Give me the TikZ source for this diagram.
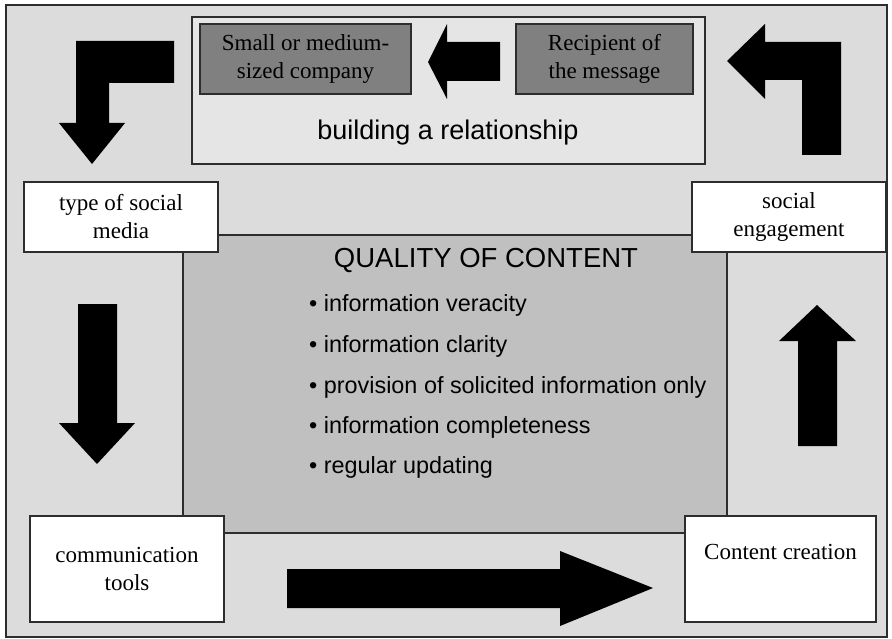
\documentclass[tikz,border=0pt]{standalone}
\usepackage{fontspec}
\setmainfont{Liberation Serif}
\setsansfont{Liberation Sans}
\definecolor{bgfill}{RGB}{220,220,220}
\definecolor{framefill}{RGB}{229,229,229}
\definecolor{darkbox}{RGB}{128,128,128}
\definecolor{corefill}{RGB}{192,192,192}
\definecolor{edgeline}{RGB}{45,45,45}
\begin{document}
\begin{tikzpicture}[x=1pt,y=-1pt,
  box/.style={rectangle,draw=edgeline,line width=1.1pt,fill=white,align=center,
    inner sep=0pt,font=\fontsize{23}{28}\selectfont},
  darkbox/.style={box,fill=darkbox},
  bullet/.style={anchor=base west,inner sep=0pt,font=\sffamily\fontsize{23.4}{28}\selectfont},
  blockarrow/.style={fill=black}]
\useasboundingbox (0,0) rectangle (892,639);
% background and frames
\draw[edgeline,line width=1.1pt,fill=bgfill] (6,5) rectangle (887,637);
\node [rectangle,draw=edgeline,line width=1.1pt,fill=corefill,minimum width=544,minimum height=298] (core) at (455,384) {};
\node [rectangle,draw=edgeline,line width=1.1pt,fill=framefill,minimum width=513,minimum height=147] (frame) at (448.5,90.5) {};
% relationship
\node [darkbox,minimum width=211,minimum height=70] (firm) at (305.5,59) {Small or medium-\\sized company};
\node [darkbox,minimum width=177,minimum height=70] (recipient) at (604.5,59) {Recipient of\\the message};
\node [font=\sffamily\fontsize{27}{30}\selectfont] (relation) at (448,133) {building a relationship};
% quality of content
\node [font=\sffamily\fontsize{27.5}{30}\selectfont] (quality) at (486,260) {QUALITY OF CONTENT};
\node [bullet] (veracity) at (309,312) {• information veracity};
\node [bullet] (clarity) at (309,352) {• information clarity};
\node [bullet] (solicited) at (309,393) {• provision of solicited information only};
\node [bullet] (complete) at (309,433) {• information completeness};
\node [bullet] (updating) at (309,473) {• regular updating};
% the four steps
\node [box,minimum width=194,minimum height=70] (media) at (121,217) {type of social\\media};
\node [box,minimum width=194,minimum height=70] (engage) at (789,217) {social\\engagement};
\node [box,minimum width=194,minimum height=106] (tools) at (127,569) {communication\\tools};
\node [box,minimum width=191,minimum height=106,text depth=34pt] (creation) at (780.5,569) {Content creation};
% block arrows
\fill[blockarrow] (500,42) -- (447,42) -- (447,24) -- (428,62) -- (447,99) -- (447,81) -- (500,81) -- cycle;
\fill[blockarrow] (174,41) -- (76,41) -- (76,123) -- (59,123) -- (92,164) -- (125,123) -- (109,123) -- (109,83) -- (174,83) -- cycle;
\fill[blockarrow] (727,61) -- (765,24) -- (765,42) -- (841,42) -- (841,155) -- (802,155) -- (802,80) -- (765,80) -- (765,99) -- cycle;
\fill[blockarrow] (78,304) -- (117,304) -- (117,423) -- (135,423) -- (97,464) -- (59,423) -- (78,423) -- cycle;
\fill[blockarrow] (287,569) -- (560,569) -- (560,551) -- (653,588) -- (560,626) -- (560,608) -- (287,608) -- cycle;
\fill[blockarrow] (798,446) -- (837,446) -- (837,341) -- (856,341) -- (817,305) -- (779,341) -- (798,341) -- cycle;
\end{tikzpicture}
\end{document}
